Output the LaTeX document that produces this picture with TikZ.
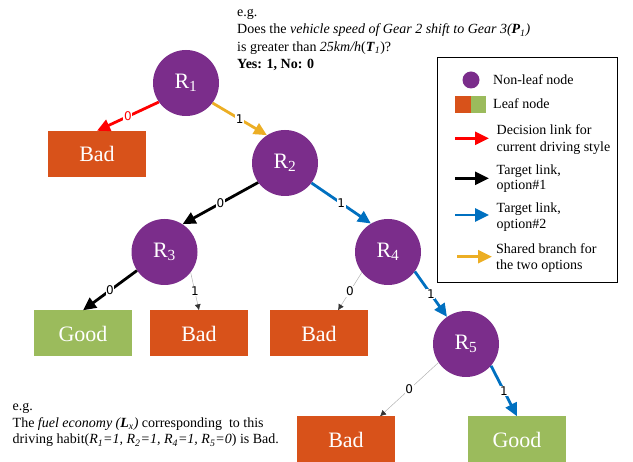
\documentclass[tikz,border=0pt]{standalone}
\usepackage{fontspec}
\setmainfont{Liberation Serif}
\newfontfamily\labelfont{DejaVu Sans}
\usetikzlibrary{arrows.meta}
\definecolor{nodepurple}{RGB}{123,45,139}
\definecolor{badorange}{RGB}{216,82,26}
\definecolor{goodgreen}{RGB}{155,187,92}
\definecolor{sharedorange}{RGB}{236,174,36}
\definecolor{targetblue}{RGB}{0,112,192}
\begin{document}
\begin{tikzpicture}[x=1pt,y=-1pt,
  inner/.style={circle,fill=nodepurple,minimum size=66pt,inner sep=0pt,text=white,font=\fontsize{22}{24}\selectfont},
  leaf/.style={rectangle,minimum width=98pt,minimum height=46pt,inner sep=0pt,text=white,font=\fontsize{22}{24}\selectfont},
  bad/.style={leaf,fill=badorange},
  good/.style={leaf,fill=goodgreen},
  link/.style={line width=2.8pt,-{Triangle[length=13pt,width=12pt]}},
  weak/.style={line width=0.5pt,draw=gray!60,-{Latex[length=6pt,width=6pt,color=black!80]}},
  elabel/.style={font=\labelfont\fontsize{12}{13}\selectfont,fill=white,inner sep=0.6pt},
  note/.style={anchor=base west,inner sep=0pt,font=\fontsize{14}{17}\selectfont},
  keyarrow/.style={line width=2.8pt,-{Triangle[length=14pt,width=13pt]}}
]
\useasboundingbox (0,0) rectangle (633,462);

% decision tree nodes
\node[inner] (R1) at (186,83) {R\textsubscript{1}};
\node[inner] (R2) at (285,163) {R\textsubscript{2}};
\node[inner] (R3) at (164.5,252) {R\textsubscript{3}};
\node[inner] (R4) at (388,252) {R\textsubscript{4}};
\node[inner] (R5) at (466,344) {R\textsubscript{5}};

\node[bad]  (bad1)  at (97,154)    {Bad};
\node[good] (good1) at (83,333.5)  {Good};
\node[bad]  (bad2)  at (199,333.5) {Bad};
\node[bad]  (bad3)  at (319,333.5) {Bad};
\node[bad]  (bad4)  at (346,439.5) {Bad};
\node[good] (good2) at (517,439.5) {Good};

% branches
\draw[link,draw=red] (R1.-145) -- node[elabel,text=red]{0} (bad1.north);
\draw[link,draw=sharedorange] (R1.-37) -- node[elabel]{1} (R2.123);
\draw[link,draw=black] (R2.-144) -- node[elabel]{0} (R3.57);
\draw[link,draw=targetblue] (R2.-37) -- node[elabel]{1} (R4.121);
\draw[link,draw=black] (R3.-146) -- node[elabel]{0} (good1.north);
\draw[weak] (R3.-38) -- node[elabel]{1} (bad2.north);
\draw[weak] (R4.-142) -- node[elabel]{0} ([xshift=19pt]bad3.north);
\draw[link,draw=targetblue] (R4.-36) -- node[elabel]{1} (R5.125);
\draw[weak] (R5.-146) -- node[elabel]{0} ([xshift=34pt]bad4.north);
\draw[link,draw=targetblue] (R5.-41.5) -- node[elabel]{1} (good2.north);

% example question at the top
\node[note] (q1) at (237,16.5) {e.g.};
\node[note] (q2) at (237,34) {Does the \textit{vehicle speed of Gear 2 shift to Gear 3(\textbf{P}\textsubscript{1})}};
\node[note] (q3) at (237,51.5) {is greater than \textit{25km/h}(\textbf{\textit{T}}\textsubscript{\textit{1}})?};
\node[note] (q4) at (237,69) {\textbf{Yes: 1, No: 0}};

% example outcome at the bottom
\node[note] (e1) at (12.5,410.5) {e.g.};
\node[note] (e2) at (12.5,427.2) {The \textit{fuel economy (\textbf{L}\textsubscript{x})} corresponding\ \ to this};
\node[note] (e3) at (12.5,444) {driving habit(\textit{R\textsubscript{1}=1, R\textsubscript{2}=1, R\textsubscript{4}=1, R\textsubscript{5}=0}) is Bad.};

% legend
\draw[line width=0.8pt] (437,57) rectangle (617,282);
\node[circle,fill=nodepurple,minimum size=17pt,inner sep=0pt] (kc) at (471,80) {};
\node[note] (k1) at (493,84.3) {Non-leaf node};
\fill[badorange] (455,96) rectangle (470.5,113);
\fill[goodgreen] (470.5,96) rectangle (486,113);
\node[note] (k2) at (493,108.3) {Leaf node};

\coordinate (ra) at (455,138.3);  \coordinate (rb) at (489,138.3);
\coordinate (ba) at (455,178.3);  \coordinate (bb) at (489,178.3);
\coordinate (ca) at (455,215);    \coordinate (cb) at (489,215);
\coordinate (oa) at (457,256.7);  \coordinate (ob) at (492,256.7);
\draw[keyarrow,draw=red] (ra) -- (rb);
\draw[keyarrow,draw=black] (ba) -- (bb);
\draw[keyarrow,draw=targetblue] (ca) -- (cb);
\draw[keyarrow,draw=sharedorange] (oa) -- (ob);

\node[note] (k3) at (496.5,135) {Decision link for};
\node[note] (k4) at (496.5,151.7) {current driving style};
\node[note] (k5) at (496.5,175) {Target link,};
\node[note] (k6) at (496.5,189.5) {option\#1};
\node[note] (k7) at (496.5,212.7) {Target link,};
\node[note] (k8) at (496.5,228.3) {option\#2};
\node[note] (k9) at (496,254) {Shared branch for};
\node[note] (k10) at (496,270) {the two options};
\end{tikzpicture}
\end{document}
